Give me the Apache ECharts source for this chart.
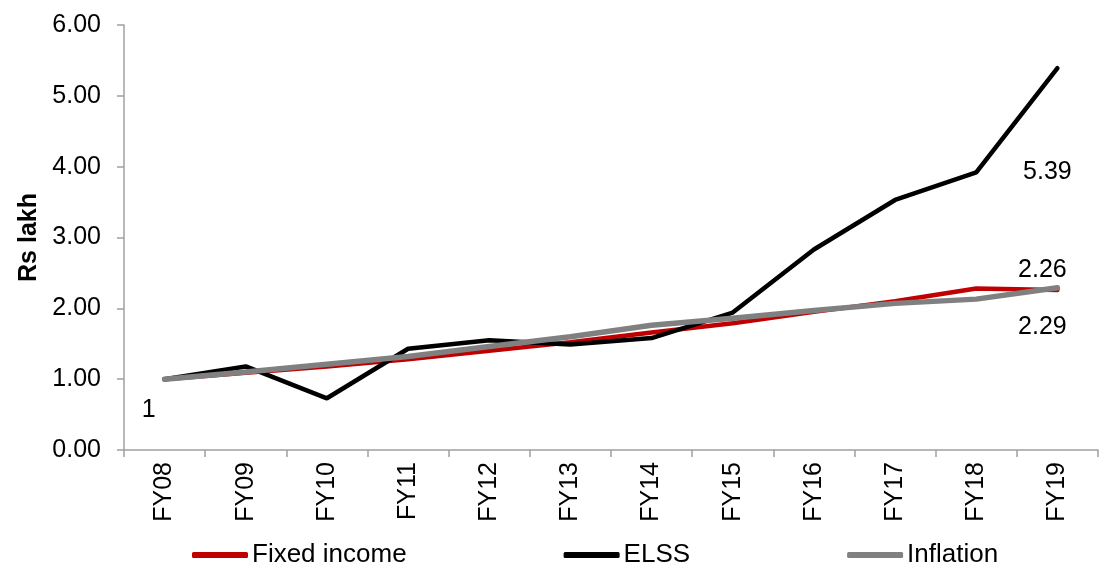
<!DOCTYPE html>
<html><head><meta charset="utf-8">
<script src="https://cdn.jsdelivr.net/npm/echarts@6/dist/echarts.min.js"></script>
<style>html,body{margin:0;padding:0;background:#fff}#c{width:1111px;height:566px}</style>
</head><body><div id="c"></div>
<script>
const categories = ['FY08','FY09','FY10','FY11','FY12','FY13','FY14','FY15','FY16','FY17','FY18','FY19'];
const fixedIncome = [1.00,1.09,1.18,1.28,1.40,1.52,1.66,1.79,1.95,2.10,2.28,2.26];
const elss        = [1.00,1.18,0.73,1.43,1.55,1.49,1.58,1.94,2.83,3.53,3.92,5.39];
const inflation   = [1.00,1.10,1.21,1.32,1.46,1.60,1.76,1.86,1.97,2.07,2.13,2.29];
const yTicks = [0,1,2,3,4,5,6];

const F = 'Liberation Sans, Arial, sans-serif';
const FS = 25;
function withLabel(arr, idx, labelCfg){
  return arr.map((v,i)=> {
    const val = (typeof v === 'object') ? v : {value:v};
    if(i===idx){ val.label = Object.assign({show:true, fontFamily:F, fontSize:FS, color:'#000', align:'center', verticalAlign:'middle'}, labelCfg); }
    return val;
  });
}
const common = {type:'line', symbol:'circle', symbolSize:0, showSymbol:true, label:{show:false}};
const chart = echarts.init(document.getElementById('c'));
chart.setOption({
  animation:false,
  grid:{left:124, right:13, top:25, bottom:116, containLabel:false, outerBoundsMode:'none'},
  legend:{
    top:542, left:192, padding:0, itemGap:157, itemWidth:56, itemHeight:6,
    icon:'roundRect',
    textStyle:{fontFamily:F, fontSize:26, color:'#000', padding:[0,0,0,-1]},
    data:['Fixed income','ELSS','Inflation']
  },
  xAxis:{
    type:'category', data:categories, boundaryGap:true,
    axisLine:{lineStyle:{color:'#a0a0a0', width:1.5}},
    axisTick:{show:true, length:7, lineStyle:{color:'#a0a0a0', width:1.5}},
    axisLabel:{rotate:90, fontFamily:F, fontSize:FS, color:'#000', margin:12}
  },
  yAxis:{
    type:'value', min:yTicks[0], max:yTicks[yTicks.length-1], interval:1,
    name:'Rs lakh', nameLocation:'middle', nameGap:82, nameRotate:90, nameMoveOverlap:false,
    nameTextStyle:{fontFamily:F, fontSize:FS, fontWeight:'bold', color:'#000'},
    axisLine:{show:true, lineStyle:{color:'#a0a0a0', width:1.5}},
    axisTick:{show:true, length:7, lineStyle:{color:'#a0a0a0', width:1.5}},
    splitLine:{show:false},
    axisLabel:{fontFamily:F, fontSize:FS, color:'#000', margin:23, formatter:v=>v.toFixed(2)}
  },
  series:[
    Object.assign({}, common, {name:'Fixed income', lineStyle:{color:'#C00000', width:4.5, cap:'round'}, itemStyle:{color:'#C00000'},
     data: withLabel(withLabel(fixedIncome, 11, {position:[-15,-20], formatter:'{c}'}), 0, {position:[-16,31], formatter:'1'}), z:2}),
    Object.assign({}, common, {name:'ELSS', lineStyle:{color:'#000', width:4.5, cap:'round'}, itemStyle:{color:'#000'},
     data: withLabel(elss, 11, {position:[-10,104], formatter:'{c}'}), z:3}),
    Object.assign({}, common, {name:'Inflation', lineStyle:{color:'#808080', width:5.5, cap:'round'}, itemStyle:{color:'#808080'},
     data: withLabel(inflation, 11, {position:[-15,39], formatter:'{c}'}), z:4})
  ]
});
</script></body></html>
